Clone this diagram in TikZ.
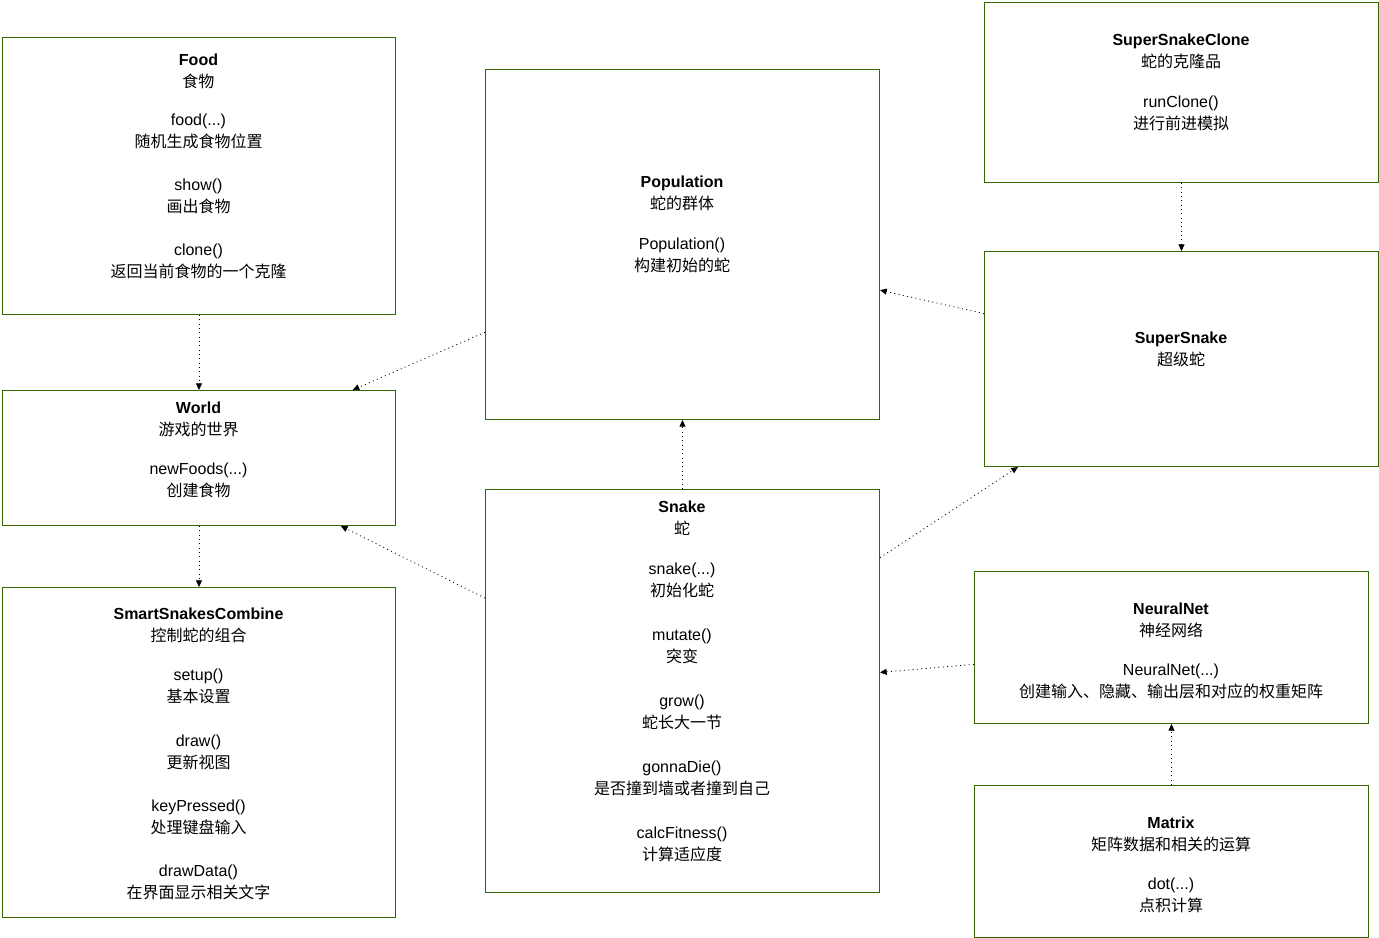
\documentclass[tikz,border=0pt]{standalone}
\usepackage{fontspec}
\setmainfont{Liberation Sans}
\newfontfamily\cjk{Noto Sans CJK SC}
\usetikzlibrary{arrows.meta, calc}
\definecolor{boxgreen}{HTML}{336600}

\begin{document}
\begin{tikzpicture}[
    x=0.75pt, y=-0.75pt,
    cls/.style={rectangle, draw=boxgreen, line width=0.75pt, anchor=north west, minimum width=295.5pt, inner sep=0pt},
    txt/.style={anchor=north, align=center, inner sep=0pt, font=\fontsize{12}{16.5}\selectfont},
    dep/.style={-{Triangle[length=5pt, width=4.5pt]}, line width=0.6pt, dash pattern=on 0.75pt off 2.5pt}
  ]
    \useasboundingbox (0,0) rectangle (1379,938);

    % class boxes
    \node[cls, minimum width=294.75pt, minimum height=207.75pt] (food) at (2,37) {};
    \node[cls, minimum width=294.75pt, minimum height=101.25pt] (world) at (2,390) {};
    \node[cls, minimum width=294.75pt, minimum height=247.5pt] (smart) at (2,587) {};
    \node[cls, minimum height=262.5pt] (pop) at (485,69) {};
    \node[cls, minimum height=302.25pt] (snake) at (485,489) {};
    \node[cls, minimum height=135pt] (clone) at (984,2) {};
    \node[cls, minimum height=161.25pt] (super) at (984,251) {};
    \node[cls, minimum height=114pt] (neural) at (974,571) {};
    \node[cls, minimum height=114pt] (matrix) at (974,785) {};

    % class texts
    \node[txt] (foodtxt) at (198.5,54) {\textbf{Food}\\{\cjk 食物}\\[11.5pt]
      food(...)\\{\cjk 随机生成食物位置}\\[15.75pt]
      show()\\{\cjk 画出食物}\\[15.75pt]
      clone()\\{\cjk 返回当前食物的一个克隆}};
    \node[txt] (worldtxt) at (198.5,402) {\textbf{World}\\{\cjk 游戏的世界}\\[12.75pt]
      newFoods(...)\\{\cjk 创建食物}};
    \node[txt] (smarttxt) at (198.5,608) {\textbf{SmartSnakesCombine}\\{\cjk 控制蛇的组合}\\[12.75pt]
      setup()\\{\cjk 基本设置}\\[16pt]
      draw()\\{\cjk 更新视图}\\[16pt]
      keyPressed()\\{\cjk 处理键盘输入}\\[16pt]
      drawData()\\{\cjk 在界面显示相关文字}};
    \node[txt] (poptxt) at (682,176) {\textbf{Population}\\{\cjk 蛇的群体}\\[13.5pt]
      Population()\\{\cjk 构建初始的蛇}};
    \node[txt] (snaketxt) at (682,501) {\textbf{Snake}\\{\cjk 蛇}\\[13.5pt]
      snake(...)\\{\cjk 初始化蛇}\\[16.5pt]
      mutate()\\{\cjk 突变}\\[16.5pt]
      grow()\\{\cjk 蛇长大一节}\\[16.5pt]
      gonnaDie()\\{\cjk 是否撞到墙或者撞到自己}\\[16.5pt]
      calcFitness()\\{\cjk 计算适应度}};
    \node[txt] (clonetxt) at (1181,34) {\textbf{SuperSnakeClone}\\{\cjk 蛇的克隆品}\\[13.5pt]
      runClone()\\{\cjk 进行前进模拟}};
    \node[txt] (supertxt) at (1181,332) {\textbf{SuperSnake}\\{\cjk 超级蛇}};
    \node[txt] (neuraltxt) at (1171,603) {\textbf{NeuralNet}\\{\cjk 神经网络}\\[12.75pt]
      NeuralNet(...)\\{\cjk 创建输入、隐藏、输出层和对应的权重矩阵}};
    \node[txt] (matrixtxt) at (1171,817) {\textbf{Matrix}\\{\cjk 矩阵数据和相关的运算}\\[12.75pt]
      dot(...)\\{\cjk 点积计算}};

    % dependencies
    \draw[dep] (food.south) -- (world.north);
    \draw[dep] ($(pop.south west)!0.25!(pop.north west)$) -- ($(world.north west)!0.89!(world.north east)$);
    \draw[dep] ($(snake.south west)!0.73!(snake.north west)$) -- ($(world.south west)!0.86!(world.south east)$);
    \draw[dep] (world.south) -- (smart.north);
    \draw[dep] (snake.north) -- (pop.south);
    \draw[dep] ($(super.south west)!0.71!(super.north west)$) -- ($(pop.south east)!0.37!(pop.north east)$);
    \draw[dep] (clone.south) -- (super.north);
    \draw[dep] ($(snake.south east)!0.83!(snake.north east)$) -- ($(super.south west)!0.086!(super.south east)$);
    \draw[dep] ($(neural.south west)!0.39!(neural.north west)$) -- ($(snake.south east)!0.546!(snake.north east)$);
    \draw[dep] (matrix.north) -- (neural.south);
  \end{tikzpicture}
\end{document}
